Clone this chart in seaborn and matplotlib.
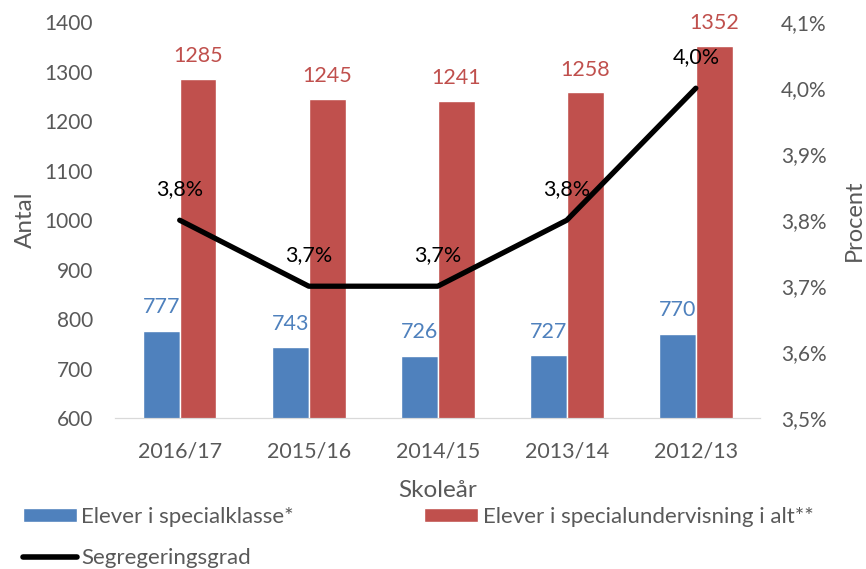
import numpy as np
import pandas as pd
import matplotlib.pyplot as plt
import seaborn as sns
from matplotlib.patches import Patch
from matplotlib.lines import Line2D

sns.set_style("white")
plt.rcParams['font.family'] = ['Lato', 'DejaVu Sans']

# data
years = ["2016/17", "2015/16", "2014/15", "2013/14", "2012/13"]
specialklasse = [777, 743, 726, 727, 770]
specialundervisning = [1285, 1245, 1241, 1258, 1352]
segregering = [3.8, 3.7, 3.7, 3.8, 4.0]

blue = "#4F81BD"
red = "#C0504D"
grey = "#595959"

df = pd.DataFrame({
    "year": years * 2,
    "antal": specialklasse + specialundervisning,
    "serie": ["Elever i specialklasse*"] * 5 + ["Elever i specialundervisning i alt**"] * 5,
})

fig = plt.figure(figsize=(8.66, 5.69), dpi=100)
ax = fig.add_axes([0.133, 0.265, 0.745, 0.696])

sns.barplot(data=df, x="year", y="antal", hue="serie", palette=[blue, red],
            width=0.57, ax=ax, legend=False, saturation=1)
ax.set_ylim(600, 1400)
ax.set_yticks(range(600, 1401, 100))
ax.set_xlim(-0.5, 4.5)

# bar labels
off = 0.285 / 2
for i, (a, b) in enumerate(zip(specialklasse, specialundervisning)):
    ax.text(i - off, a + 36, str(a), color=blue, ha="center", va="baseline", fontsize=15.5)
    ax.text(i + off, b + 34, str(b), color=red, ha="center", va="baseline", fontsize=15.5)

ax2 = ax.twinx()
sns.lineplot(x=np.arange(len(years)), y=segregering, ax=ax2, color="black",
             linewidth=3.8, solid_joinstyle="round", solid_capstyle="round")
ax2.set_ylim(3.5, 4.1)
pct_ticks = [3.5, 3.6, 3.7, 3.8, 3.9, 4.0, 4.1]
ax2.set_yticks(pct_ticks)
ax2.set_yticklabels([f"{v:.1f}%".replace(".", ",") for v in pct_ticks])
ax2.set_xlim(-0.5, 4.5)
for i, v in enumerate(segregering):
    ax2.text(i, v + 0.038, f"{v:.1f}%".replace(".", ","), color="black",
             ha="center", va="baseline", fontsize=15.5)

for a in (ax, ax2):
    for s in ("top", "left", "right"):
        a.spines[s].set_visible(False)
    a.spines["bottom"].set_color("#D9D9D9")
    a.tick_params(length=0, labelsize=15, labelcolor=grey)
ax.tick_params(axis="y", pad=16)
ax.tick_params(axis="x", pad=17, labelsize=15.5)
ax2.tick_params(axis="y", pad=15)

ax.set_xlabel("Skoleår", fontsize=17.5, color=grey, labelpad=13)
ax.set_ylabel("Antal", fontsize=17.5, color=grey, labelpad=6)
ax2.set_ylabel("Procent", fontsize=17, color=grey, labelpad=12)

handles = [
    Patch(facecolor=blue, label="Elever i specialklasse*"),
    Line2D([0], [0], color="black", linewidth=4, label="Segregeringsgrad"),
    Patch(facecolor=red, label="Elever i specialundervisning i alt**"),
]
leg = fig.legend(handles=handles, ncol=2, loc="upper left", bbox_to_anchor=(0.026, 0.109),
                 frameon=False, fontsize=16, handlelength=2.45, handleheight=0.6,
                 handletextpad=0.2, columnspacing=5.85, labelspacing=0.95,
                 borderpad=0, borderaxespad=0)
for t in leg.get_texts():
    t.set_color(grey)

fig.savefig("out.png", dpi=100)
